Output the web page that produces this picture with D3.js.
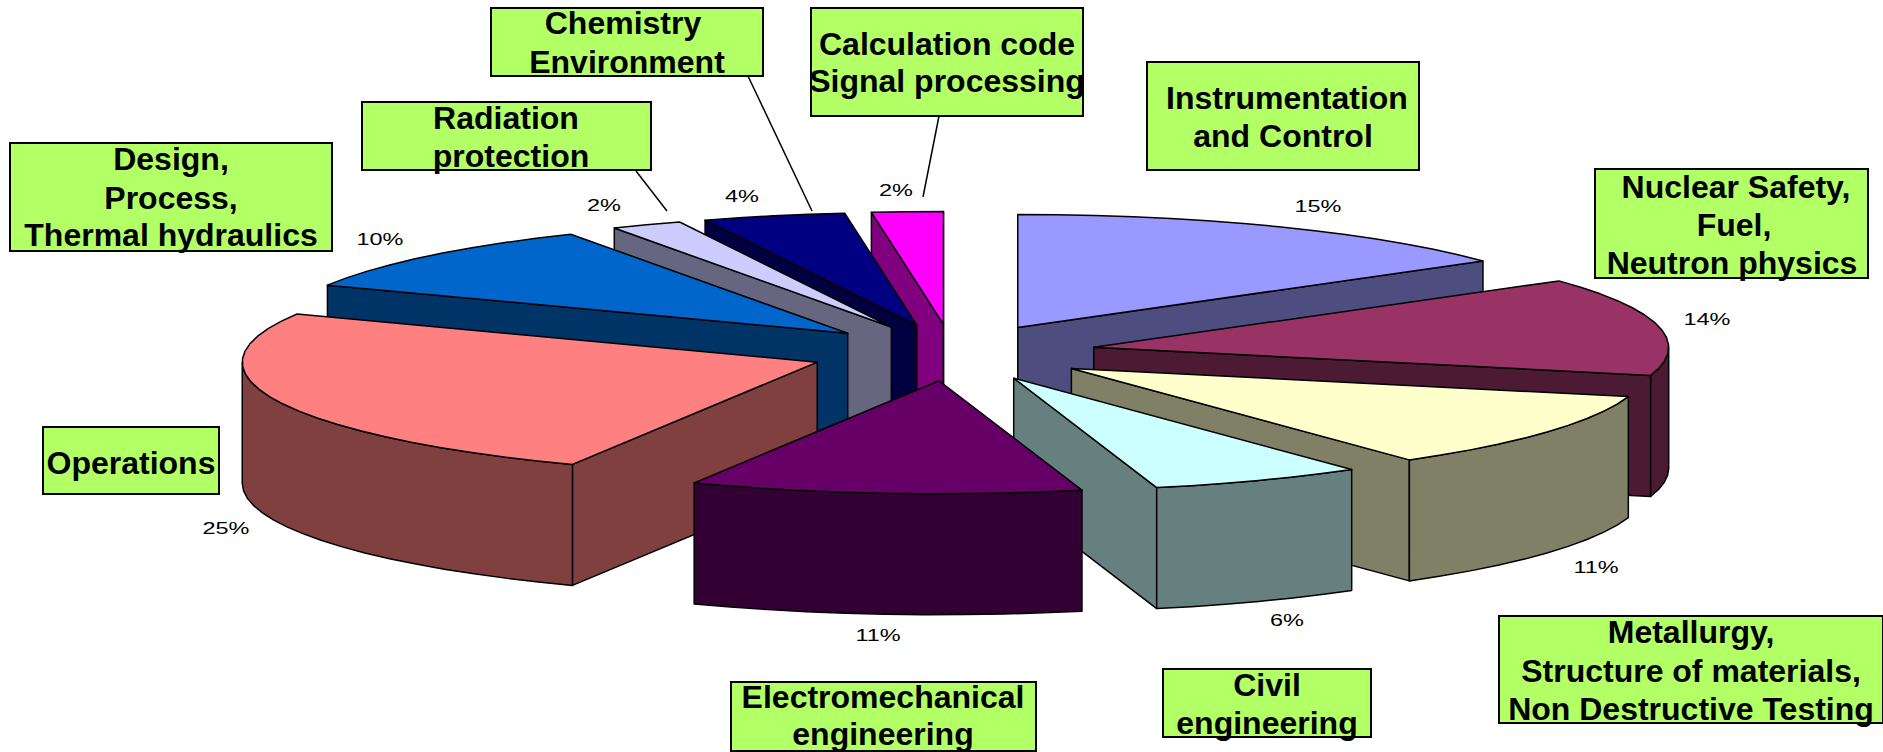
<!DOCTYPE html>
<html>

<head>
  <meta charset="utf-8">
  <title>Staff by field</title>
  <script src="https://cdnjs.cloudflare.com/ajax/libs/d3/7.8.5/d3.min.js"></script>
  <style>
    body { margin: 0; background: #fff; }
    svg { display: block; }
    text { font-family: "Liberation Sans", Arial, sans-serif; fill: #000; }
  </style>
</head>

<body>
<script>
// clockwise from 12 o'clock
const categories = [
	['Instrumentation', 'and Control'],
	['Nuclear Safety,', 'Fuel,', 'Neutron physics'],
	['Metallurgy,', 'Structure of materials,', 'Non Destructive Testing'],
	['Civil', 'engineering'],
	['Electromechanical', 'engineering'],
	['Operations'],
	['Design,', 'Process,', 'Thermal hydraulics'],
	['Radiation', 'protection'],
	['Chemistry', 'Environment'],
	['Calculation code', 'Signal processing']
];
const shares = [15, 14, 11, 6, 11, 25, 10, 2, 4, 2];
const colors = ['#9999ff', '#993366', '#ffffcc', '#ccffff', '#660066', '#ff8080', '#0066cc', '#ccccff', '#000080', '#ff00ff'];

// back to front
const paintOrder = [0, 1, 2, 3, 9, 8, 7, 6, 5, 4];

const width = 1883;
const height = 752;
const center = {x: 952.5, y: 352.6};
const radiusX = 575;
const radiusY = 113;
const depth = 121;
const explode = 0.25;
const arcStep = Math.PI / 45;

// box: x, y, w, h, centre of each text line, baseline of each text line
const boxes = [
	{x: 1147, y: 62, w: 272, h: 108, cx: [1287, 1283], base: [109, 147]},
	{x: 1595, y: 169, w: 273, h: 109, cx: [1736, 1734, 1732], base: [198, 236, 274]},
	{x: 1499, y: 616, w: 384, h: 107, cx: [1691, 1691, 1691], base: [643, 682, 720]},
	{x: 1163, y: 669, w: 208, h: 68, cx: [1267, 1267], base: [696, 734]},
	{x: 731, y: 682, w: 305, h: 69, cx: [883, 883], base: [708, 745]},
	{x: 43, y: 427, w: 176, h: 67, cx: [131], base: [474]},
	{x: 10, y: 143, w: 322, h: 108, cx: [171, 171, 171], base: [170, 209, 246]},
	{x: 362, y: 102, w: 289, h: 68, cx: [506, 511], base: [129, 167]},
	{x: 491, y: 8, w: 272, h: 68, cx: [623, 627], base: [34, 73]},
	{x: 811, y: 8, w: 272, h: 108, cx: [947, 947], base: [55, 92]}
];

// percent label centre and baseline
const percentPos = [
	[1318, 212], [1707, 325], [1596, 573], [1287, 626], [878, 641],
	[226, 534], [380, 245], [604, 211], [742, 202], [896, 196]
];

const leaders = [
	[[636, 171], [667, 211]],
	[[748, 76], [812, 211]],
	[[939, 116], [923, 197]]
];

const xScale = d3.scaleLinear()
	.domain([-1, 1])
	.range([center.x - radiusX, center.x + radiusX]);

const yScale = d3.scaleLinear()
	.domain([-1, 1])
	.range([center.y + radiusY, center.y - radiusY]);

const pie = d3.pie().sort(null).value((d) => d);
const slices = pie(shares);

const svg = d3.select('body').append('svg')
	.attr('width', width)
	.attr('height', height);

const line = d3.line()
	.x((d) => xScale(d.u))
	.y((d) => yScale(d.v) + d.z);

// flat pie coordinates, slice pulled out along its middle angle
const pieOffset = (s) => {
	const mid = (s.startAngle + s.endAngle) / 2;
	return {u: explode * Math.sin(mid), v: explode * Math.cos(mid)};
};

const rimPoint = (s, a, z) => {
	const o = pieOffset(s);
	return {u: o.u + Math.sin(a), v: o.v + Math.cos(a), z: z};
};

const apexPoint = (s, z) => {
	const o = pieOffset(s);
	return {u: o.u, v: o.v, z: z};
};

const rimAngles = (a0, a1) => {
	const steps = Math.max(1, Math.ceil((a1 - a0) / arcStep));
	return d3.range(steps + 1).map((i) => a0 + (a1 - a0) * i / steps);
};

const sideColor = (c) => {
	const rgb = d3.rgb(c);
	return d3.rgb(rgb.r / 2, rgb.g / 2, rgb.b / 2).formatHex();
};

const drawFace = (g, pts, fill) => {
	g.append('path')
		.attr('d', line(pts) + 'Z')
		.attr('fill', fill)
		.attr('stroke', '#000')
		.attr('stroke-width', 1.5)
		.attr('stroke-linejoin', 'round');
};

paintOrder.forEach((i) => {
	const s = slices[i];
	const a0 = s.startAngle;
	const a1 = s.endAngle;
	const dark = sideColor(colors[i]);
	const g = svg.append('g');

	// cut faces, only the ones turned toward the viewer
	if (Math.sin(a0) < 0) {
		drawFace(g, [apexPoint(s, 0), rimPoint(s, a0, 0), rimPoint(s, a0, depth), apexPoint(s, depth)], dark);
	}
	if (Math.sin(a1) > 0) {
		drawFace(g, [apexPoint(s, 0), rimPoint(s, a1, 0), rimPoint(s, a1, depth), apexPoint(s, depth)], dark);
	}

	// outer wall: front half of the rim is 90deg to 270deg
	const wall0 = Math.max(a0, Math.PI / 2);
	const wall1 = Math.min(a1, Math.PI * 1.5);
	if (wall1 > wall0) {
		const angles = rimAngles(wall0, wall1);
		const upper = angles.map((a) => rimPoint(s, a, 0));
		const lower = angles.map((a) => rimPoint(s, a, depth)).reverse();
		drawFace(g, upper.concat(lower), dark);
	}

	const top = rimAngles(a0, a1).map((a) => rimPoint(s, a, 0));
	drawFace(g, [apexPoint(s, 0)].concat(top), colors[i]);
});

svg.append('g')
	.selectAll('line')
	.data(leaders)
	.enter()
	.append('line')
	.attr('x1', (d) => d[0][0])
	.attr('y1', (d) => d[0][1])
	.attr('x2', (d) => d[1][0])
	.attr('y2', (d) => d[1][1])
	.attr('stroke', '#000')
	.attr('stroke-width', 1.5);

// percent labels are drawn wider than tall
svg.append('g')
	.selectAll('text')
	.data(shares)
	.enter()
	.append('text')
	.attr('transform', (d, i) => `translate(${percentPos[i][0]} ${percentPos[i][1]}) scale(1.38 1)`)
	.attr('text-anchor', 'middle')
	.attr('font-size', 17)
	.text((d) => d + '%');

const labels = svg.append('g')
	.selectAll('g')
	.data(categories)
	.enter()
	.append('g');

labels.append('rect')
	.attr('x', (d, i) => boxes[i].x)
	.attr('y', (d, i) => boxes[i].y)
	.attr('width', (d, i) => boxes[i].w)
	.attr('height', (d, i) => boxes[i].h)
	.attr('fill', '#b2ff66')
	.attr('stroke', '#000')
	.attr('stroke-width', 2);

labels.each(function (d, i) {
	d3.select(this).selectAll('text')
		.data(d)
		.enter()
		.append('text')
		.attr('x', (t, j) => boxes[i].cx[j])
		.attr('y', (t, j) => boxes[i].base[j])
		.attr('text-anchor', 'middle')
		.attr('font-size', 32)
		.attr('font-weight', 'bold')
		.text((t) => t);
});
</script>
</body>

</html>
